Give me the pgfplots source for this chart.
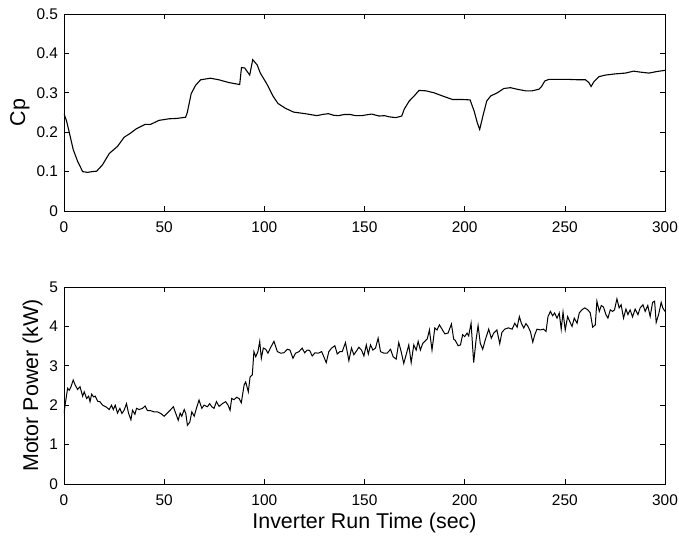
\documentclass[border=0pt]{standalone}
\usepackage{pgfplots}
\pgfplotsset{compat=1.18}
\usepackage{fontspec}
\setmainfont{Liberation Sans}
\begin{document}
\begin{tikzpicture}
\useasboundingbox (-64bp,-60bp) rectangle (615bp,484bp);
\pgfplotsset{
  every axis/.append style={
    scale only axis, width=601bp, height=197bp,
    xmin=0, xmax=300,
    xtick={0,50,100,150,200,250,300},
    tick align=inside, tickpos=both,
    major tick length=5bp,
    axis line style={line width=0.7bp},
    every tick/.style={line width=0.6bp, black},
    tick label style={font=\fontsize{15.5}{18}\selectfont},
    label style={font=\fontsize{21.5}{25}\selectfont},
    xticklabel style={yshift=-7.5bp},
    yticklabel style={xshift=-2.5bp},
    /pgf/number format/assume math mode=true,
    scaled ticks=false,
  }
}
\begin{axis}[at={(0,273bp)}, anchor=south west,
  ymin=0, ymax=0.5, ytick={0,0.1,0.2,0.3,0.4,0.5},
  yticklabel style={/pgf/number format/.cd, fixed, precision=1},
  ylabel={Cp}]
\addplot[black, line width=1.1bp] coordinates {
(0,0.247) (1.3,0.228) (2.7,0.198) (4.6,0.156) (6.8,0.126) (9.3,0.100) (11.8,0.098) (14,0.100) (16.3,0.101)
(19.2,0.117) (22.6,0.146) (26.7,0.164) (30,0.187) (33.3,0.198) (36.2,0.209) (40.5,0.220) (43.3,0.220)
(47.4,0.230) (52.4,0.234) (56.5,0.235) (60.7,0.238) (61.5,0.249) (63.5,0.298) (65.7,0.319) (68.2,0.333)
(73.1,0.337) (77.3,0.333) (82.3,0.326) (87.7,0.321) (88.6,0.364) (90.2,0.363) (92.7,0.345) (94.2,0.384)
(96.4,0.371) (98,0.350) (101.3,0.322) (104.3,0.292) (106.8,0.273) (110.4,0.261) (114.6,0.251) (120.4,0.247)
(126.2,0.242) (129,0.245) (132,0.247) (134.5,0.243) (137,0.242) (140,0.245) (142.8,0.245) (145.5,0.242) (148.6,0.242)
(151,0.244) (153.6,0.246) (157.3,0.241) (160,0.242) (162.3,0.239) (165.6,0.237) (168.6,0.241) (169.8,0.258)
(172.3,0.279) (174.8,0.292) (177.2,0.306) (180.6,0.305) (184.7,0.300) (188.9,0.292) (193.9,0.283)
(198.8,0.283) (202.7,0.282) (204.7,0.254) (206.3,0.224) (207.5,0.207) (209.1,0.241) (211,0.279)
(213,0.292) (216.3,0.300) (219.6,0.311) (222.9,0.313) (226.2,0.309) (230.4,0.305) (233.7,0.305)
(237,0.309) (238.4,0.316) (240,0.330) (242,0.334) (247.2,0.334) (252,0.334) (257,0.333) (260.3,0.333)
(262,0.326) (263.1,0.316) (264.5,0.328) (267,0.341) (270.3,0.345) (275.2,0.348) (280.2,0.350)
(284.4,0.355) (286.9,0.353) (291.9,0.350) (296,0.354) (300,0.357)
};
\end{axis}
\begin{axis}[at={(0,0)}, anchor=south west,
  ymin=0, ymax=5, ytick={0,1,2,3,4,5},
  ylabel={Motor Power (kW)},
  xlabel={Inverter Run Time (sec)}]
\addplot[black, line width=1bp] coordinates {
(0,1.79) (0.65,2.04) (1.8,2.43) (2.6,2.38) (3.5,2.47) (4.6,2.64) (5.6,2.51) (6.8,2.40) (8,2.47)
(9.3,2.23) (10.1,2.34) (11.3,2.17) (12.3,2.23) (13,2.09) (13.8,2.28) (14.8,2.21) (15.6,2.23)
(16.8,2.10) (17.9,2.09) (19.3,2.00) (20.9,1.96) (22.6,1.89) (23.7,2.00) (24.6,1.89) (25.6,2.00)
(26.7,1.80) (27.9,1.92) (28.9,1.79) (30,1.87) (31.2,2.04) (32.2,1.80) (33.4,1.63) (34.2,1.87)
(35.4,1.77) (36.2,1.92) (37.5,1.89) (39.2,1.92) (40.5,1.98) (41.7,1.86) (43.3,1.86) (45,1.83)
(46.7,1.83) (48.3,1.79) (50,1.72) (51.6,1.80) (53.3,1.89) (54.6,1.96) (55.8,1.79) (57,1.62)
(58,1.80) (58.8,1.72) (60,1.89) (60.8,1.79) (61.6,1.49) (62.8,1.57) (63.8,1.83) (65,1.72)
(66.1,1.92) (67.4,2.13) (68.8,1.92) (69.9,2.00) (71.6,1.96) (72.7,2.04)
(73.8,1.96) (74.9,1.92) (76.1,2.09) (77.4,1.97) (79.1,2.04) (80.7,2.09) (81.9,2.00) (82.9,1.87)
(83.7,2.17) (84.9,2.14) (86.1,2.20) (87.4,2.17) (88.5,2.06) (89.9,2.51) (90.7,2.59) (92,2.34)
(92.9,2.72) (94,2.77) (94.8,3.36) (95.7,3.23) (96.8,3.36) (97.7,3.62) (98.5,3.19) (99.5,3.45)
(100.7,3.42) (101.8,3.32) (103.2,3.47) (104.8,3.62) (106.5,3.36) (108.1,3.32) (109.8,3.33)
(111.5,3.42) (112.8,3.40) (114.3,3.19) (115.6,3.32) (117.3,3.36) (118.9,3.45) (120.1,3.33)
(121.4,3.40) (122.6,3.39) (123.9,3.25) (125.3,3.33) (126.9,3.32) (128.6,3.36) (129.7,3.23)
(130.9,3.08) (132.2,3.36) (133.6,3.45) (135.2,3.51) (136.4,3.30) (137.7,3.36) (138.9,3.36)
(140.5,3.59) (142.2,3.13) (143.5,3.45) (144.7,3.28) (146.3,3.40)
(147.2,3.47) (148.5,3.40) (149.7,3.25) (150.9,3.53) (151.9,3.30) (153,3.53) (154.2,3.40)
(155.5,3.45) (156.8,3.70) (158,3.36) (159.7,3.32) (161.3,3.32) (163,3.42) (164.3,3.23)
(165.8,3.17) (167.1,3.59) (168.3,3.36) (169.6,3.06) (171,3.32) (172.1,3.53) (173.3,3.08)
(174.6,3.53) (175.8,3.40) (176.8,3.62) (177.9,3.40) (179.1,3.57) (180.1,3.62) (181.3,3.68)
(182.4,3.91) (183.7,3.40) (185.1,3.96) (186.2,3.91) (187.4,4.04) (188.7,3.93) (190.1,3.81)
(191.7,3.83) (193.4,4.06) (194.5,3.68) (195.4,3.64) (196.7,3.51) (197.9,3.53) (199,3.79)
(200,3.74) (201.2,3.83) (202,3.76) (203.2,4.08) (204.5,3.08) (205.7,3.66) (206.7,4.02)
(207.8,3.57) (209,3.42) (210.3,3.66) (212,3.93) (213.3,3.70) (214.5,3.83) (216.1,3.91)
(217.5,3.56) (218.6,3.85) (220,3.93) (221.6,3.96)
(222,3.96) (223.7,3.93) (225,4.08) (226.2,3.98) (227.3,4.25) (228.3,4.08) (229.5,3.96)
(230.6,4.07) (231.6,4.00) (232.8,3.87) (234,3.60) (235,3.79) (236.1,3.93) (237.8,3.91)
(239.4,3.93) (240.6,3.87) (241.6,4.25) (242.8,4.38) (243.9,4.27) (244.9,4.34) (246.1,4.21)
(247.2,4.34) (248.2,3.93) (249.1,4.36) (250.2,3.91) (251.4,4.25) (252.4,4.13) (253.6,4.00)
(254.7,4.21) (256.1,4.08) (257.2,4.34) (258.5,4.42) (259.9,4.47) (261.5,4.42) (262.7,4.34)
(263.9,3.98) (265.2,4.04) (266,4.64) (267.2,4.38) (268.2,4.53) (269.3,4.49) (270.5,4.30)
(271.5,4.21) (272.7,4.42) (273.8,4.38) (274.8,4.42) (276,4.70) (277.1,4.47) (278.1,4.55)
(279.3,4.21) (280.5,4.44) (281.5,4.30) (282.6,4.42) (283.8,4.24) (285.1,4.44) (286.5,4.30)
(287.6,4.47) (289,4.55) (290.1,4.38) (291.4,4.53) (292.6,4.25) (293.8,4.61) (294.8,4.64)
(295.6,4.10) (296.8,4.30) (298.1,4.61) (298.9,4.47) (300,4.38)
};
\end{axis}
\end{tikzpicture}
\end{document}
